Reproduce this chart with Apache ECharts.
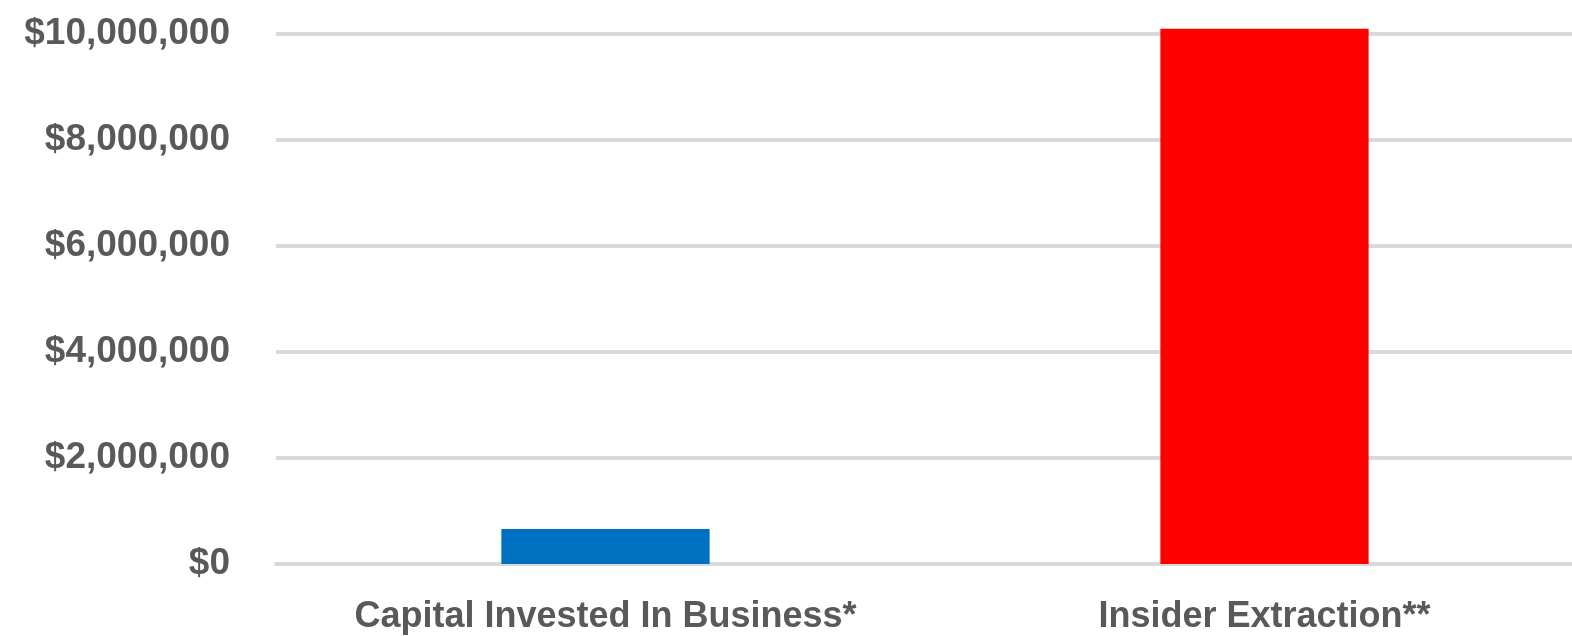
<!DOCTYPE html>
<html>
<head>
<meta charset="utf-8">
<script src="https://cdn.jsdelivr.net/npm/echarts@6/dist/echarts.min.js"></script>
<style>
  html, body { margin: 0; padding: 0; background: #ffffff; overflow: hidden; width: 1572px; height: 636px; }
  /* the plot runs slightly past the right edge of the page */
  #chart { width: 1594px; height: 636px; }
</style>
</head>
<body>
<div id="chart"></div>
<script>
// Categories and amounts (USD)
const categories = ['Capital Invested In Business*', 'Insider Extraction**'];
const amounts = [660000, 10100000];
const barColors = ['#0070C0', '#FF0000'];
const yTicks = { min: 0, max: 10000000, interval: 2000000 };

function money(v) {
  return '$' + Math.round(v).toString().replace(/\B(?=(\d{3})+(?!\d))/g, ',');
}

const chart = echarts.init(document.getElementById('chart'), null, { renderer: 'canvas' });

chart.setOption({
  animation: false,
  backgroundColor: '#ffffff',
  grid: { left: 276, right: 0, top: 34, bottom: 72 },
  xAxis: {
    type: 'category',
    data: categories,
    axisLine: { show: true, lineStyle: { color: '#d9d9d9', width: 4 } },
    axisTick: { show: false },
    axisLabel: {
      color: '#595959',
      fontFamily: 'Liberation Sans, Arial, sans-serif',
      fontWeight: 'bold',
      fontSize: 36,
      margin: 35,
      interval: 0
    }
  },
  yAxis: {
    type: 'value',
    min: yTicks.min,
    max: yTicks.max,
    interval: yTicks.interval,
    axisLine: { show: false },
    axisTick: { show: false },
    splitLine: { show: true, lineStyle: { color: '#d9d9d9', width: 4 } },
    axisLabel: {
      color: '#595959',
      fontFamily: 'Liberation Sans, Arial, sans-serif',
      fontWeight: 'bold',
      fontSize: 37,
      margin: 46,
      formatter: money
    }
  },
  series: [{
    type: 'bar',
    clip: false,
    barWidth: '31.6%',
    data: amounts.map((v, i) => ({ value: v, itemStyle: { color: barColors[i] } }))
  }]
});
</script>
</body>
</html>
